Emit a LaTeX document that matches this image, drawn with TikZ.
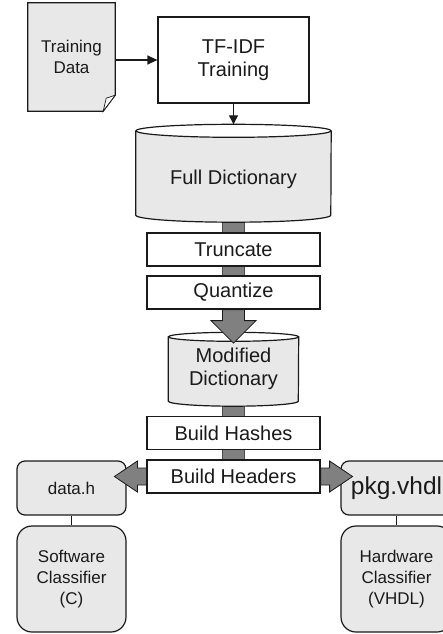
\documentclass[tikz,border=0pt]{standalone}
\usepackage{fontspec}
\setmainfont{Liberation Sans}
\usetikzlibrary{arrows.meta,calc}
\pgfdeclarelayer{background}
\pgfsetlayers{background,main}
\definecolor{boxfill}{HTML}{E8E8E8}
\definecolor{barfill}{HTML}{808080}
\definecolor{edge}{HTML}{1A1A1A}
\tikzset{
  txt/.style={align=center,text=edge,inner sep=0pt},
  bigtxt/.style={txt,font=\fontsize{20}{23}\selectfont},
  smalltxt/.style={txt,font=\fontsize{17}{21}\selectfont},
  stepbox/.style={bigtxt,draw=edge,line width=1.2pt,fill=white,minimum width=173pt,minimum height=33pt},
  roundbox/.style={smalltxt,draw=edge,line width=1.2pt,fill=boxfill,minimum width=109pt,rounded corners=#1},
  shapeline/.style={draw=edge,line width=1.2pt},
  bar/.style={draw=black!70,line width=0.8pt,fill=barfill},
  thin/.style={draw=edge,line width=0.7pt},
}
\begin{document}
\begin{tikzpicture}[x=1pt,y=1pt]
\useasboundingbox (0,0) rectangle (443,-634);
\clip (0,0) rectangle (443,-634);

% Training data (document)
\node[smalltxt,minimum width=87pt,minimum height=108pt] (train) at (71.5,-57) {Training\\Data};
\begin{pgfonlayer}{background}
\draw[shapeline,fill=boxfill] (train.north west) -- (train.north east) -- ($(train.south east)+(0,16)$) -- ($(train.south east)+(-12,0)$) -- (train.south west) -- cycle;
\draw[thin,fill=white] ($(train.south east)+(0,16)$) -- ($(train.south east)+(-9,13)$) -- ($(train.south east)+(-12,0)$) -- cycle;
\end{pgfonlayer}

% TF-IDF
\node[bigtxt,draw=edge,line width=1.2pt,fill=white,minimum width=151pt,minimum height=86pt] (tfidf) at (233.5,-60) {TF-IDF\\Training};

% Full dictionary cylinder
\node[bigtxt,minimum width=195pt,minimum height=84pt] (fulldict) at (233.5,-173) {};
\node[bigtxt] (fdlabel) at (233.5,-179) {Full Dictionary};
\coordinate (fdtop) at ($(fulldict.north)+(0,6.5)$);

% steps
\node[stepbox] (truncate) at (233.5,-249.5) {Truncate};
\node[stepbox] (quantize) at (233.5,-292.5) {Quantize};

% Modified dictionary cylinder
\node[bigtxt,minimum width=130pt,minimum height=65pt] (moddict) at (233.5,-368.5) {Modified\\Dictionary};

\node[stepbox] (hashes) at (233.5,-433) {Build Hashes};
\node[stepbox] (headers) at (233.5,-476.5) {Build Headers};

% outputs
\node[roundbox=8pt,minimum height=54pt] (datah) at (71.5,-488) {data.h};
\node[roundbox=15pt,minimum height=106pt] (sw) at (71.5,-579) {Software\\Classifier\\(C)};
\node[roundbox=8pt,minimum height=54pt,minimum width=111pt,font=\fontsize{24.5}{28}\selectfont] (pkg) at (396.5,-488) {pkg.vhdl};
\node[roundbox=15pt,minimum height=106pt,minimum width=111pt] (hw) at (396.5,-579) {Hardware\\Classifier\\(VHDL)};

% background bars
\begin{pgfonlayer}{background}
\draw[bar] ($(fulldict.center)+(-11,0)$) rectangle ($(quantize.center)+(11,0)$);
\draw[bar] ($(moddict.center)+(-11,0)$) rectangle ($(headers.center)+(11,0)$);
\end{pgfonlayer}

% draw cylinders (over the bars)
\draw[shapeline,fill=boxfill] (fulldict.north west) -- (fulldict.south west) arc[start angle=180,end angle=360,x radius=97.5pt,y radius=7pt] -- (fulldict.north east);
\draw[shapeline,fill=white] (fulldict.north) ellipse[x radius=97.5pt,y radius=6.5pt];
\node[bigtxt] at (fdlabel) {Full Dictionary};

\draw[shapeline,fill=boxfill] ($(moddict.north west)+(0,-1)$) -- (moddict.south west) arc[start angle=180,end angle=360,x radius=65pt,y radius=5pt] -- ($(moddict.north east)+(0,-1)$);
\draw[shapeline,fill=white] ($(moddict.north)+(0,-1)$) ellipse[x radius=65pt,y radius=4.5pt];
\node[bigtxt] at (moddict) {Modified\\Dictionary};

% redraw step boxes over bars
\node[stepbox] at (truncate) {Truncate};
\node[stepbox] at (quantize) {Quantize};
\node[stepbox] at (hashes) {Build Hashes};
\node[stepbox] at (headers) {Build Headers};

% connectors
\draw[line width=1.2pt,draw=edge,-{Triangle[length=10pt,width=9pt]}] (train.east |- tfidf.west) -- (tfidf.west);
\draw[line width=1.2pt,draw=edge,-{Triangle[length=9pt,width=9pt]}] (tfidf.south) -- (fdtop);

% big arrow quantize -> moddict
\draw[bar,draw=edge] ($(quantize.south)+(-11,0)$) -- ++(0,-11) -- ++(-11.5,0) -- ++(22.5,-22.5) -- ++(22.5,22.5) -- ++(-11.5,0) -- ++(0,11) -- cycle;

% side arrows
\draw[bar,draw=edge] ($(headers.west)+(0,8.5)$) -- ++(-9,0) -- ++(0,7) -- ++(-23,-15.5) -- ++(23,-15.5) -- ++(0,7) -- ++(9,0) -- cycle;
\draw[bar,draw=edge] ($(headers.east)+(0,8.5)$) -- ++(9,0) -- ++(0,7) -- ++(23,-15.5) -- ++(-23,-15.5) -- ++(0,7) -- ++(-9,0) -- cycle;

% thin links
\draw[thin] (datah.south) -- (sw.north);
\draw[thin] (pkg.south) -- (hw.north);
\end{tikzpicture}
\end{document}
